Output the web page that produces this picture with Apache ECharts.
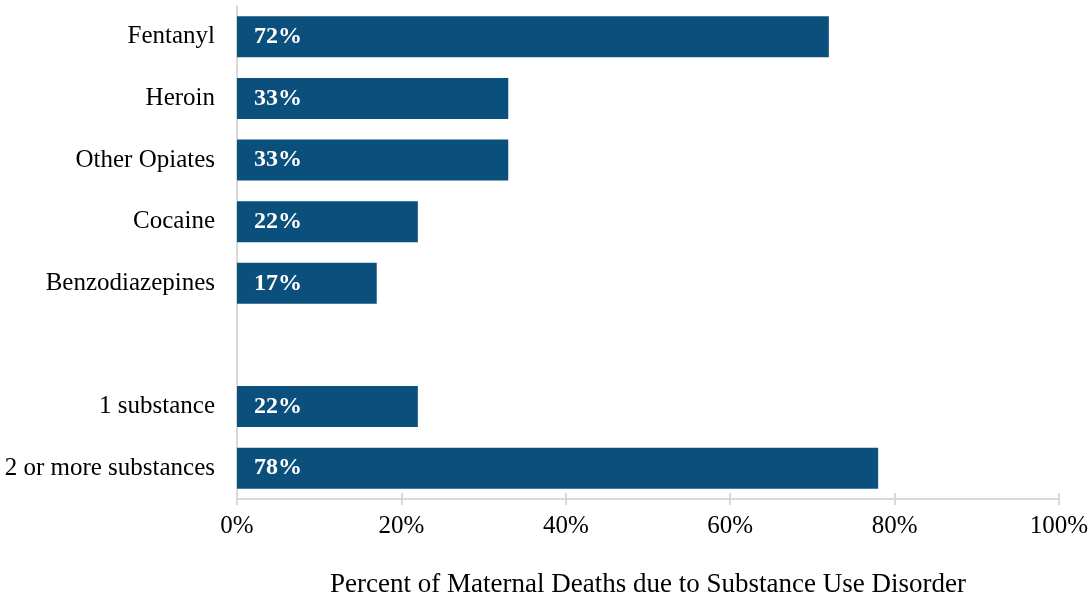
<!DOCTYPE html>
<html>
<head>
<meta charset="utf-8">
<script src="https://cdn.jsdelivr.net/npm/echarts@6/dist/echarts.min.js"></script>
<style>html,body{margin:0;padding:0;background:#fff;}#c{width:1091px;height:599px;}</style>
</head>
<body>
<div id="c"></div>
<script>
var categories = ['Fentanyl', 'Heroin', 'Other Opiates', 'Cocaine', 'Benzodiazepines', '', '1 substance', '2 or more substances'];
var values = [72, 33, 33, 22, 17, null, 22, 78];
var xTicks = [0, 20, 40, 60, 80, 100];
var axisTitle = 'Percent of Maternal Deaths due to Substance Use Disorder';

var FONT = "'Liberation Serif', 'Times New Roman', serif";
var chart = echarts.init(document.getElementById('c'), null, {renderer: 'canvas'});
chart.setOption({
  animation: false,
  backgroundColor: '#ffffff',
  grid: {left: 237, right: 32, top: 6, bottom: 100, containLabel: false, outerBoundsMode: 'none'},
  xAxis: [{
    type: 'value', min: xTicks[0], max: xTicks[xTicks.length - 1], interval: 20,
    position: 'bottom',
    axisLine: {show: true, lineStyle: {color: '#d9d9d9', width: 2}},
    axisTick: {show: true, length: 6, lineStyle: {color: '#d9d9d9', width: 2}},
    splitLine: {show: false},
    axisLabel: {formatter: '{value}%', color: '#000', fontFamily: FONT, fontSize: 25, margin: 15},
    name: axisTitle, nameLocation: 'middle', nameGap: 72,
    nameTextStyle: {color: '#000', fontFamily: FONT, fontSize: 27}
  }, {
    type: 'value', min: xTicks[0], max: xTicks[xTicks.length - 1], interval: 20,
    position: 'bottom', offset: 0,
    axisLine: {show: false},
    axisTick: {show: true, inside: true, length: 6, lineStyle: {color: '#d9d9d9', width: 2}},
    axisLabel: {show: false}, splitLine: {show: false}
  }],
  yAxis: {
    type: 'category', data: categories, inverse: true,
    axisLine: {show: true, lineStyle: {color: '#d9d9d9', width: 2}},
    axisTick: {show: false},
    axisLabel: {color: '#000', fontFamily: FONT, fontSize: 25, margin: 22}
  },
  series: [{
    type: 'bar', data: values, barWidth: '66.7%',
    itemStyle: {color: '#0b4f7c'},
    label: {
      show: true, position: 'insideLeft', distance: 17,
      formatter: function (p) { return p.value + '%'; },
      color: '#fff', fontFamily: FONT, fontSize: 24, fontWeight: 'bold'
    }
  }]
});
</script>
</body>
</html>
